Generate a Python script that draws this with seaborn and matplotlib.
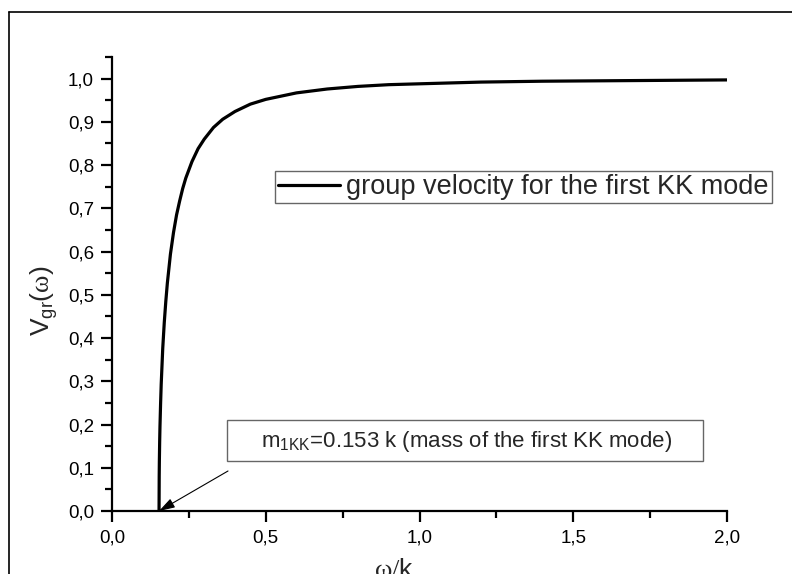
import matplotlib
matplotlib.use("Agg")
import matplotlib.pyplot as plt
import seaborn as sns
import pandas as pd
from matplotlib.ticker import MultipleLocator, FuncFormatter
from matplotlib.lines import Line2D
from matplotlib.patches import Rectangle

# Data
omega = [0.153, 0.1535, 0.154, 0.155, 0.156, 0.158, 0.160, 0.165, 0.170, 0.175,
         0.180, 0.190, 0.200, 0.210, 0.220, 0.230, 0.240, 0.260, 0.280, 0.300,
         0.330, 0.360, 0.400, 0.450, 0.500, 0.600, 0.700, 0.800, 0.900, 1.000,
         1.200, 1.400, 1.600, 1.800, 2.000]
vgr = [0.000, 0.080, 0.114, 0.160, 0.195, 0.248, 0.293, 0.376, 0.436, 0.485,
       0.527, 0.594, 0.644, 0.685, 0.717, 0.746, 0.770, 0.808, 0.838, 0.860,
       0.887, 0.906, 0.924, 0.941, 0.952, 0.967, 0.976, 0.982, 0.986, 0.988,
       0.992, 0.994, 0.995, 0.996, 0.997]
series_label = "group velocity for the first KK mode"
annot_text = r"m$_{\mathregular{1KK}}$=0.153 k (mass of the first KK mode)"
mass = 0.153

sns.set_theme(style="ticks")
plt.rcParams['font.family'] = ['Liberation Sans', 'DejaVu Sans']
plt.rcParams['mathtext.fontset'] = 'custom'
plt.rcParams['mathtext.rm'] = 'Liberation Sans'
plt.rcParams['mathtext.it'] = 'Liberation Sans:italic'
plt.rcParams['mathtext.tt'] = 'Liberation Serif'
plt.rcParams['mathtext.default'] = 'regular'

df = pd.DataFrame({"omega": omega, "vgr": vgr})

fig = plt.figure(figsize=(7.92, 5.74), dpi=100)
ax = fig.add_axes([112/792, 1-511/574, (727-112)/792, (511-57)/574])

sns.lineplot(data=df, x="omega", y="vgr", ax=ax, color="black", linewidth=2.3,
             legend=False, sort=False)

ax.set_xlim(0, 2.0)
ax.set_ylim(0, 1.05)
ax.xaxis.set_major_locator(MultipleLocator(0.5))
ax.xaxis.set_minor_locator(MultipleLocator(0.25))
ax.yaxis.set_major_locator(MultipleLocator(0.1))
ax.yaxis.set_minor_locator(MultipleLocator(0.05))
fmt = FuncFormatter(lambda v, p: f"{v:.1f}".replace(".", ","))
ax.xaxis.set_major_formatter(fmt)
ax.yaxis.set_major_formatter(fmt)

for s in ["top", "right"]:
    ax.spines[s].set_visible(False)
for s in ["left", "bottom"]:
    ax.spines[s].set_linewidth(1.6)
    ax.spines[s].set_color("black")
ax.tick_params(which="major", length=8, width=1.6, labelsize=13.5, colors="black", pad=5)
ax.tick_params(which="minor", length=5, width=1.6, colors="black")

ax.set_ylabel(r"V$_{gr}$($\mathtt{\omega}$)", fontsize=19)
ax.yaxis.set_label_coords(-(112-60)/615, (511-301)/454)
ax.set_xlabel(r"$\mathtt{\omega/}$k", fontsize=19)
ax.xaxis.set_label_coords((394-112)/615, -(558-511)/454)

# Legend
handle = Line2D([], [], color="black", linewidth=2.3)
leg = fig.legend([handle], [series_label], loc="center",
                 bbox_to_anchor=((272+775)/2/792, 1-187/574),
                 frameon=True, fancybox=False, framealpha=1, edgecolor="#666666",
                 fontsize=19.5, handlelength=2.3, handletextpad=0.22,
                 borderpad=0.12, borderaxespad=0)
leg.get_frame().set_linewidth(1.0)

# Annotation box
fig.add_artist(Rectangle((227/792, 1-461/574), (703-227)/792, (461-420)/574,
                         transform=fig.transFigure, facecolor="white",
                         edgecolor="#666666", linewidth=1.0))
fig.text((227+703)/2/792 + 0.002, 1-441/574, annot_text, ha="center", va="center",
         fontsize=16)
ax.annotate("", xy=(mass, 0), xycoords="data",
            xytext=(228/792, 1-471/574), textcoords="figure fraction",
            arrowprops=dict(arrowstyle="-|>,head_length=0.8,head_width=0.25",
                            color="black", linewidth=0.8, shrinkA=0, shrinkB=0))

# Outer frame
fig.add_artist(Line2D([9/792, 1.0], [1-12/574, 1-12/574], transform=fig.transFigure,
                      color="black", linewidth=1.2))
fig.add_artist(Line2D([9/792, 9/792], [0, 1-12/574], transform=fig.transFigure,
                      color="black", linewidth=1.2))

fig.savefig("out.png", dpi=100)
